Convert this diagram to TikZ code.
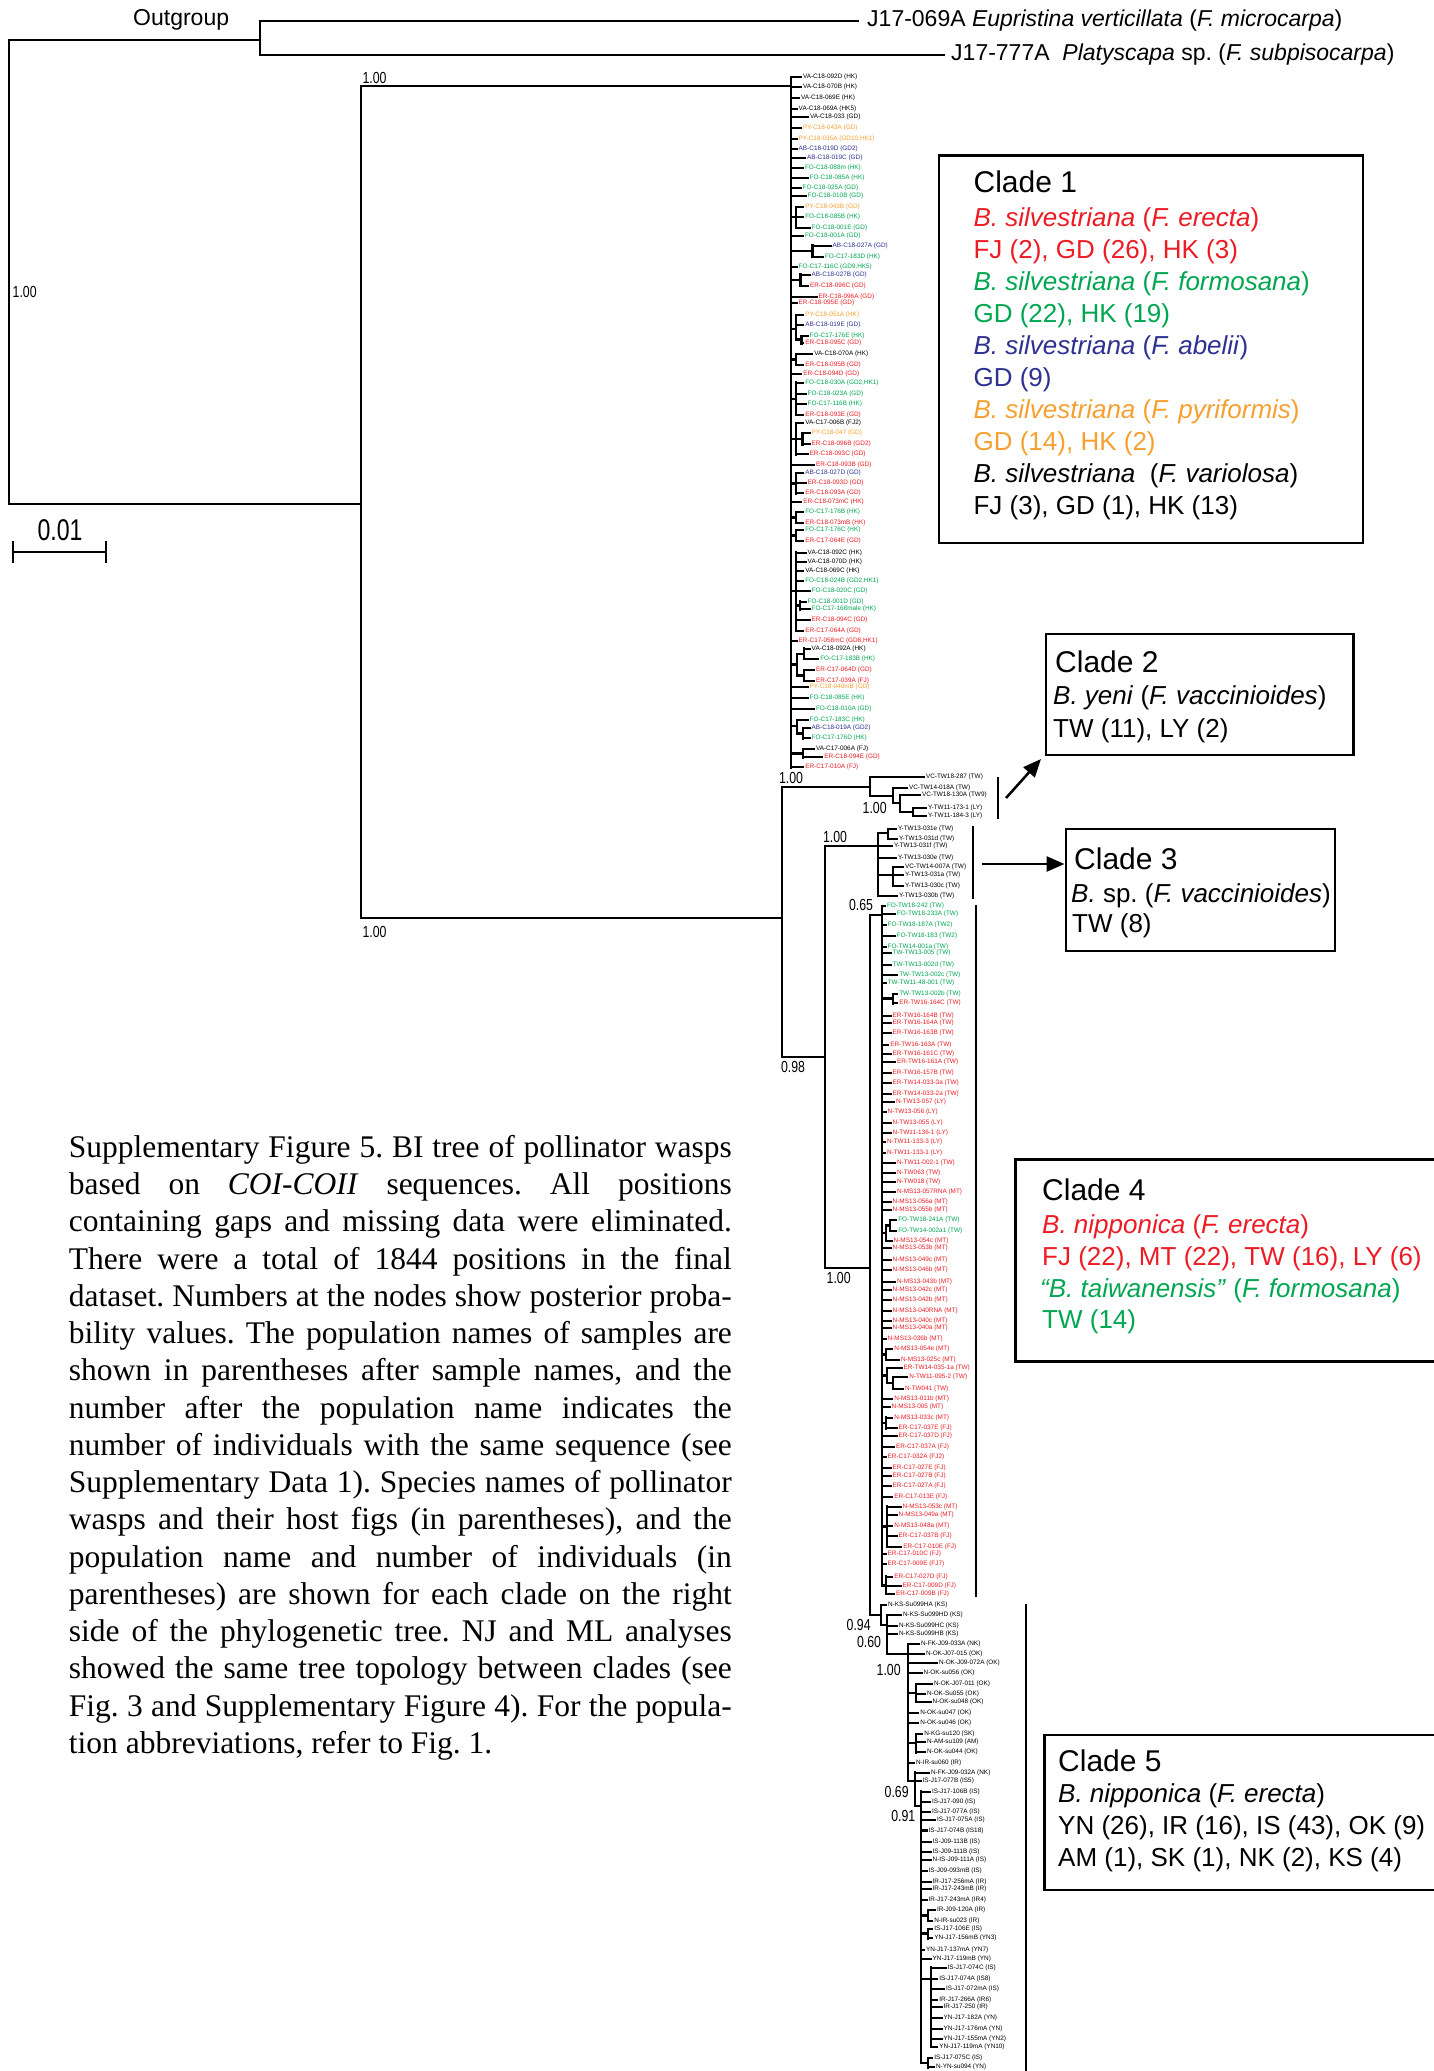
\documentclass[tikz,border=0pt]{standalone}
\usepackage{fontspec}
\setmainfont{Liberation Sans}
\newfontfamily\capfont{Liberation Serif}
\usetikzlibrary{arrows.meta}
\definecolor{cred}{RGB}{237,28,36}
\definecolor{cgrn}{RGB}{0,166,81}
\definecolor{cblu}{RGB}{46,49,146}
\definecolor{corg}{RGB}{247,160,50}
\definecolor{blk}{RGB}{0,0,0}
\newcount\lfc
\newcommand\leaffont{\fontsize{6.4}{7}\selectfont}
\newcommand\narr[1]{\scalebox{0.77}[1]{#1}}
\newcommand\lf[5]{\global\advance\lfc by 1\relax
  \node[leaf,text=#4] (L\the\lfc) at (#3,#2) {#5};
  \draw[tk] (#1,#2) -- (L\the\lfc.west);}
\newcommand\vl[3]{\draw[br] (#1,#2) -- (#1,#3);}
\newcommand\hl[3]{\draw[br] (#1,#3) -- (#2,#3);}
\frenchspacing
\begin{document}
\begin{tikzpicture}[x=1pt,y=-1pt,
 br/.style={line width=2.5pt, line cap=rect},
 tk/.style={line width=2.3pt, line cap=butt},
 leaf/.style={anchor=west, inner sep=0.8pt, font=\leaffont},
 supp/.style={inner sep=0, font=\fontsize{16}{16}\selectfont},
 cbox/.style={draw, line width=2.2pt, anchor=north west, inner sep=0},
 chd/.style={anchor=base west, inner sep=0, font=\fontsize{30}{32}\selectfont},
 ctx/.style={anchor=base west, inner sep=0, font=\fontsize{26}{28}\selectfont},
 big/.style={anchor=west, inner sep=0, font=\fontsize{23}{25}\selectfont},
 arr/.style={line width=2.5pt, -{Triangle[length=18pt,width=15pt]}},
 capt/.style={anchor=north west, inner sep=0, align=left, font=\capfont\fontsize{31.5}{37.25}\selectfont\frenchspacing}]
\path[use as bounding box, fill=white] (0,0) rectangle (1433,2071);

% ---------- outgroup and backbone ----------
\node[big] (outg) at (133,20) {Outgroup};
\node[big] (og1) at (867,21) {J17-069A \textit{Eupristina verticillata} (\textit{F. microcarpa})};
\node[big] (og2) at (951,55) {J17-777A\ \ \textit{Platyscapa} sp. (\textit{F. subpisocarpa})};
\hl{9}{260}{40}
\vl{260}{21}{55}
\draw[br,line cap=butt] (260,21) -- ([xshift=-8pt]og1.west);
\draw[br,line cap=butt] (260,55) -- ([xshift=-6pt]og2.west);
\vl{9}{40}{504}
\hl{9}{361}{504}
\vl{361}{86}{918}
\hl{361}{791}{86}
\hl{361}{782}{918}
\node[supp] (s0) at (24.7,291.7) {\narr{1.00}};
\node[supp] (s1) at (374.5,78) {\narr{1.00}};
\node[supp] (s2) at (374.5,932) {\narr{1.00}};

% scale bar
\draw[br,line cap=butt] (13,552) -- (106,552);
\draw[br,line cap=butt] (13,541) -- (13,563);
\draw[br,line cap=butt] (106,541) -- (106,563);
\node[inner sep=0, font=\fontsize{30}{30}\selectfont] (scl) at (60,530) {\narr{0.01}};

% ---------- clade 1 ----------
\vl{791}{77.3}{767.3}
\hl{791}{796}{217} \vl{796}{207}{227.7}
\hl{791}{812.7}{251.2} \vl{812.7}{245.7}{256.7}
\hl{791}{800.7}{280.2} \vl{800.7}{274.7}{285.7}
\hl{791}{796}{329} \vl{796}{315}{339.7} \hl{796}{801.7}{339.7} \vl{801.7}{336}{343.3}
\hl{791}{796}{359.5} \vl{796}{354}{365}
\hl{791}{796}{399} \vl{796}{382.7}{415}
\hl{791}{796}{439} \vl{796}{423.3}{454.3} \hl{796}{802.3}{438.8} \vl{802.3}{433.3}{444.3}
\hl{791}{796}{483.3} \vl{796}{473.3}{493.3}
\hl{791}{796}{517.5} \vl{796}{512.3}{522.7}
\hl{791}{796}{535.5} \vl{796}{530}{541}
\hl{791}{796}{591} \vl{796}{552.7}{630.7} \hl{796}{800}{605.5} \vl{800}{601.7}{609.3}
\hl{791}{797}{664.7} \vl{797}{654}{675.5} \hl{797}{804}{654} \vl{804}{648.7}{659} \hl{797}{804}{675.5} \vl{804}{670}{681}
\hl{791}{797}{726} \vl{797}{720}{733.3} \hl{797}{803}{733.3} \vl{803}{728.3}{738.3}
\hl{791}{803}{753.3} \vl{803}{749.3}{757.3}
\lf{791}{77.3}{802}{blk}{VA-C18-092D (HK)}
\lf{791}{87.3}{802}{blk}{VA-C18-070B (HK)}
\lf{791}{98.3}{800}{blk}{VA-C18-069E (HK)}
\lf{791}{109}{797.7}{blk}{VA-C18-069A (HK5)}
\lf{791}{117.3}{809}{blk}{VA-C18-033 (GD)}
\lf{791}{128.3}{802}{corg}{PY-C18-043A (GD)}
\lf{791}{138.7}{797.7}{corg}{PY-C18-035A (GD10,HK1)}
\lf{791}{149.3}{797.7}{cblu}{AB-C18-019D (GD2)}
\lf{791}{157.7}{806}{cblu}{AB-C18-019C (GD)}
\lf{791}{167.7}{804}{cgrn}{FO-C18-088m (HK)}
\lf{791}{178.3}{808.7}{cgrn}{FO-C18-085A (HK)}
\lf{791}{188.3}{801.7}{cgrn}{FO-C18-025A (GD)}
\lf{791}{196}{806.7}{cgrn}{FO-C18-010B (GD)}
\lf{796}{207}{804.3}{corg}{PY-C18-043B (GD)}
\lf{796}{217}{804.3}{cgrn}{FO-C18-085B (HK)}
\lf{796}{227.7}{810.7}{cgrn}{FO-C18-001E (GD)}
\lf{791}{235.7}{804}{cgrn}{FO-C18-001A (GD)}
\lf{812.7}{245.7}{831.7}{cblu}{AB-C18-027A (GD)}
\lf{812.7}{256.7}{824}{cgrn}{FO-C17-183D (HK)}
\lf{791}{267.3}{797.7}{cgrn}{FO-C17-116C (GD9,HK5)}
\lf{800.7}{274.7}{810.7}{cblu}{AB-C18-027B (GD)}
\lf{800.7}{285.7}{809}{cred}{ER-C18-096C (GD)}
\lf{791}{296.7}{817.7}{cred}{ER-C18-096A (GD)}
\lf{791}{303.3}{797.7}{cred}{ER-C18-095E (GD)}
\lf{796}{315}{804.3}{corg}{PY-C18-051A (HK)}
\lf{796}{325}{804.3}{cblu}{AB-C18-019E (GD)}
\lf{801.7}{336}{808.7}{cgrn}{FO-C17-176E (HK)}
\lf{801.7}{343.3}{804.3}{cred}{ER-C18-095C (GD)}
\lf{796}{354}{813.3}{blk}{VA-C18-070A (HK)}
\lf{796}{365}{804.3}{cred}{ER-C18-095B (GD)}
\lf{791}{374.3}{802.3}{cred}{ER-C18-094D (GD)}
\lf{796}{382.7}{804.3}{cgrn}{FO-C18-030A (GD2,HK1)}
\lf{796}{394.3}{806.7}{cgrn}{FO-C18-023A (GD)}
\lf{796}{404.3}{806.7}{cgrn}{FO-C17-116B (HK)}
\lf{796}{415}{804.3}{cred}{ER-C18-093E (GD)}
\lf{796}{423.3}{804.3}{blk}{VA-C17-006B (FJ2)}
\lf{802.3}{433.3}{810.7}{corg}{PY-C18-047 (GD)}
\lf{802.3}{444.3}{810.7}{cred}{ER-C18-096B (GD2)}
\lf{796}{454.3}{808.7}{cred}{ER-C18-093C (GD)}
\lf{791}{465}{815}{cred}{ER-C18-093B (GD)}
\lf{796}{473.3}{804.3}{cblu}{AB-C18-027D (GD)}
\lf{796}{483.3}{806.7}{cred}{ER-C18-093D (GD)}
\lf{796}{493.3}{804.3}{cred}{ER-C18-093A (GD)}
\lf{791}{502.3}{802.3}{cred}{ER-C18-073mC (HK)}
\lf{796}{512.3}{804.3}{cgrn}{FO-C17-176B (HK)}
\lf{796}{522.7}{804.3}{cred}{ER-C18-073mB (HK)}
\lf{796}{530}{804.3}{cgrn}{FO-C17-176C (HK)}
\lf{796}{541}{804.3}{cred}{ER-C17-064E (GD)}
\lf{796}{552.7}{806.7}{blk}{VA-C18-092C (HK)}
\lf{796}{562.3}{806.7}{blk}{VA-C18-070D (HK)}
\lf{796}{570.7}{804.3}{blk}{VA-C18-069C (HK)}
\lf{796}{581}{804.3}{cgrn}{FO-C18-024B (GD2,HK1)}
\lf{796}{591.3}{810.7}{cgrn}{FO-C18-020C (GD)}
\lf{800}{601.7}{806.7}{cgrn}{FO-C18-001D (GD)}
\lf{800}{609.3}{810.7}{cgrn}{FO-C17-168male (HK)}
\lf{796}{620}{810.7}{cred}{ER-C18-094C (GD)}
\lf{796}{630.7}{804.3}{cred}{ER-C17-064A (GD)}
\lf{791}{641}{797.7}{cred}{ER-C17-058mC (GD8,HK1)}
\lf{804}{648.7}{810.7}{blk}{VA-C18-092A (HK)}
\lf{804}{659}{819.3}{cgrn}{FO-C17-183B (HK)}
\lf{804}{670}{815}{cred}{ER-C17-064D (GD)}
\lf{804}{681}{815}{cred}{ER-C17-039A (FJ)}
\lf{791}{687.3}{808.7}{corg}{PY-C18-040mB (GD)}
\lf{791}{698.3}{808.7}{cgrn}{FO-C18-085E (HK)}
\lf{791}{709.3}{815}{cgrn}{FO-C18-010A (GD)}
\lf{797}{720}{808.7}{cgrn}{FO-C17-183C (HK)}
\lf{803}{728.3}{810.7}{cblu}{AB-C18-019A (GD2)}
\lf{803}{738.3}{810.7}{cgrn}{FO-C17-176D (HK)}
\lf{803}{749.3}{815}{blk}{VA-C17-006A (FJ)}
\lf{803}{757.3}{823.3}{cred}{ER-C18-094E (GD)}
\lf{791}{767.3}{804.3}{cred}{ER-C17-010A (FJ)}

% ---------- clades 2-5 backbone ----------
\vl{782}{787}{1057}
\node[supp] (s3) at (793,1067) {\narr{0.98}};
% clade 2
\hl{782}{870}{787} \vl{870}{777}{796}
\hl{870}{893}{796} \vl{893}{788}{803}
\hl{893}{900}{803} \vl{900}{795}{812}
\hl{900}{913}{812} \vl{913}{808}{816}
\node[supp] (s4) at (791,778) {\narr{1.00}};
\node[supp] (s5) at (874.7,808) {\narr{1.00}};
\lf{870}{777}{925}{blk}{VC-TW18-287 (TW)}
\lf{893}{788}{908}{blk}{VC-TW14-018A (TW)}
\lf{900}{795}{921}{blk}{VC-TW18-130A (TW9)}
\lf{913}{808}{927}{blk}{Y-TW11-173-1 (LY)}
\lf{913}{816}{927}{blk}{Y-TW11-184-3 (LY)}
% clade 3
\hl{782}{825}{1057} \vl{825}{846}{1268}
\hl{825}{878}{846} \vl{878}{833}{896}
\hl{878}{888}{833} \vl{888}{829}{839}
\hl{878}{893}{875} \vl{893}{867}{886}
\node[supp] (s6) at (835,837) {\narr{1.00}};
\lf{888}{829}{897}{blk}{Y-TW13-031e (TW)}
\lf{888}{839}{898}{blk}{Y-TW13-031d (TW)}
\lf{878}{846}{893}{blk}{Y-TW13-031f (TW)}
\lf{878}{858}{897}{blk}{Y-TW13-030e (TW)}
\lf{893}{867}{904}{blk}{VC-TW14-007A (TW)}
\lf{893}{875}{904}{blk}{Y-TW13-031a (TW)}
\lf{893}{886}{904}{blk}{Y-TW13-030c (TW)}
\lf{878}{896}{898}{blk}{Y-TW13-030b (TW)}
% clades 4+5
\hl{825}{870}{1268} \vl{870}{915}{1615}
\node[supp] (s7) at (838.7,1278) {\narr{1.00}};
\node[supp] (s8) at (861,905) {\narr{0.65}};
% ---------- clade 4 ----------
\hl{870}{882}{915} \vl{882}{906}{1585.3}
\hl{882}{893}{998.7} \vl{893}{994}{1003.3}
\hl{882}{886}{1233} \vl{886}{1225.3}{1240.7} \hl{886}{890}{1225.3} \vl{890}{1220}{1230.7}
\hl{882}{886}{1354.7} \vl{886}{1349.3}{1360}
\hl{882}{887}{1375.7} \vl{887}{1368.3}{1383} \hl{887}{893}{1383} \vl{893}{1377.3}{1389}
\hl{882}{886}{1423} \vl{886}{1417.7}{1428.3}
\hl{882}{887}{1526.7} \vl{887}{1506.7}{1546.7}
\hl{882}{886}{1585.3} \vl{886}{1576.7}{1594}
\lf{882}{906}{886}{cgrn}{FO-TW18-242 (TW)}
\lf{882}{914.3}{896}{cgrn}{FO-TW18-233A (TW)}
\lf{882}{925}{886.7}{cgrn}{FO-TW18-187A (TW2)}
\lf{882}{935.7}{895.7}{cgrn}{FO-TW18-183 (TW2)}
\lf{882}{946.7}{886.7}{cgrn}{FO-TW14-001a (TW)}
\lf{882}{953.3}{891.7}{cgrn}{TW-TW13-005 (TW)}
\lf{882}{965}{891.7}{cgrn}{TW-TW13-002d (TW)}
\lf{882}{975}{898.3}{cgrn}{TW-TW13-002c (TW)}
\lf{882}{982.7}{886.7}{cgrn}{TW-TW11-48-001 (TW)}
\lf{893}{994}{898.3}{cgrn}{TW-TW13-002b (TW)}
\lf{893}{1003.3}{898.3}{cred}{ER-TW16-164C (TW)}
\lf{882}{1015.7}{891.7}{cred}{ER-TW16-164B (TW)}
\lf{882}{1023.3}{891.7}{cred}{ER-TW16-164A (TW)}
\lf{882}{1033.3}{891.7}{cred}{ER-TW16-163B (TW)}
\lf{882}{1045}{889.3}{cred}{ER-TW16-163A (TW)}
\lf{882}{1054.3}{891.7}{cred}{ER-TW16-161C (TW)}
\lf{882}{1062.3}{896}{cred}{ER-TW16-161A (TW)}
\lf{882}{1073.3}{891.7}{cred}{ER-TW16-157B (TW)}
\lf{882}{1083.3}{891.7}{cred}{ER-TW14-033-3a (TW)}
\lf{882}{1094}{891.7}{cred}{ER-TW14-033-2a (TW)}
\lf{882}{1101.7}{895}{cred}{N-TW13-057 (LY)}
\lf{882}{1111.7}{886.7}{cred}{N-TW13-056 (LY)}
\lf{882}{1122.7}{891.7}{cred}{N-TW13-055 (LY)}
\lf{882}{1132.7}{891.7}{cred}{N-TW11-136-1 (LY)}
\lf{882}{1141.7}{886}{cred}{N-TW11-133-3 (LY)}
\lf{882}{1152.7}{886}{cred}{N-TW11-133-1 (LY)}
\lf{882}{1163.3}{896}{cred}{N-TW11-002-1 (TW)}
\lf{882}{1173.3}{896}{cred}{N-TW063 (TW)}
\lf{882}{1181.7}{896}{cred}{N-TW018 (TW)}
\lf{882}{1191.7}{896}{cred}{N-MS13-057RNA (MT)}
\lf{882}{1201.7}{891.7}{cred}{N-MS13-056a (MT)}
\lf{882}{1210}{891.7}{cred}{N-MS13-055b (MT)}
\lf{890}{1220}{897.3}{cgrn}{FO-TW18-241A (TW)}
\lf{890}{1230.7}{897.3}{cgrn}{FO-TW14-002a1 (TW)}
\lf{886}{1240.7}{892.7}{cred}{N-MS13-054c (MT)}
\lf{882}{1248.3}{891.7}{cred}{N-MS13-053b (MT)}
\lf{882}{1260}{891.7}{cred}{N-MS13-049c (MT)}
\lf{882}{1270}{891.7}{cred}{N-MS13-046b (MT)}
\lf{882}{1282.3}{896}{cred}{N-MS13-043b (MT)}
\lf{882}{1290}{891.7}{cred}{N-MS13-042c (MT)}
\lf{882}{1300}{891.7}{cred}{N-MS13-042b (MT)}
\lf{882}{1311}{891.7}{cred}{N-MS13-040RNA (MT)}
\lf{882}{1321}{891.7}{cred}{N-MS13-040c (MT)}
\lf{882}{1328.3}{891.7}{cred}{N-MS13-040a (MT)}
\lf{882}{1339.3}{886.7}{cred}{N-MS13-036b (MT)}
\lf{886}{1349.3}{893.3}{cred}{N-MS13-054e (MT)}
\lf{886}{1360}{900}{cred}{N-MS13-025c (MT)}
\lf{887}{1368.3}{902.7}{cred}{ER-TW14-035-1a (TW)}
\lf{893}{1377.3}{908.3}{cred}{N-TW11-095-2 (TW)}
\lf{893}{1389}{904}{cred}{N-TW041 (TW)}
\lf{882}{1399}{893.3}{cred}{N-MS13-011b (MT)}
\lf{882}{1406.7}{890.7}{cred}{N-MS13-005 (MT)}
\lf{886}{1417.7}{893.3}{cred}{N-MS13-033c (MT)}
\lf{886}{1428.3}{897.7}{cred}{ER-C17-037E (FJ)}
\lf{882}{1436}{897.7}{cred}{ER-C17-037D (FJ)}
\lf{882}{1447.3}{895}{cred}{ER-C17-037A (FJ)}
\lf{882}{1457.3}{886.7}{cred}{ER-C17-032A (FJ2)}
\lf{882}{1468.3}{891.7}{cred}{ER-C17-027E (FJ)}
\lf{882}{1476}{891.7}{cred}{ER-C17-027B (FJ)}
\lf{882}{1486}{891.7}{cred}{ER-C17-027A (FJ)}
\lf{882}{1496.7}{893.3}{cred}{ER-C17-013E (FJ)}
\lf{887}{1506.7}{901.7}{cred}{N-MS13-053c (MT)}
\lf{887}{1515}{897.7}{cred}{N-MS13-049a (MT)}
\lf{887}{1525.7}{893.3}{cred}{N-MS13-048a (MT)}
\lf{887}{1535.7}{897.7}{cred}{ER-C17-037B (FJ)}
\lf{887}{1546.7}{902.3}{cred}{ER-C17-010E (FJ)}
\lf{882}{1554.3}{886.7}{cred}{ER-C17-010C (FJ)}
\lf{882}{1564.3}{886.7}{cred}{ER-C17-009E (FJ7)}
\lf{886}{1576.7}{893.3}{cred}{ER-C17-027D (FJ)}
\lf{886}{1585.7}{901.7}{cred}{ER-C17-009D (FJ)}
\lf{886}{1594}{895}{cred}{ER-C17-009B (FJ)}

% ---------- clade 5 ----------
\hl{870}{881}{1615} \vl{881}{1605}{1625}
\hl{881}{887}{1625} \vl{887}{1615}{1654}
\hl{887}{908}{1654} \vl{908}{1644}{1781}
\hl{908}{916}{1693} \vl{916}{1684.3}{1701.7}
\hl{908}{916}{1743} \vl{916}{1734.3}{1752.3}
\hl{908}{915}{1781} \vl{915}{1772.7}{1806}
\hl{915}{921}{1806} \vl{921}{1791.7}{2062.8}
\hl{921}{928}{1915.3} \vl{928}{1910}{1920.7}
\hl{921}{928}{1933.7} \vl{928}{1929}{1938.3}
\hl{921}{931}{1979} \vl{931}{1967.7}{2046.7}
\hl{921}{928}{2062.8} \vl{928}{2058.3}{2067.3}
\node[supp] (s9) at (858.7,1625) {\narr{0.94}};
\node[supp] (s10) at (869,1642) {\narr{0.60}};
\node[supp] (s11) at (888.7,1669.5) {\narr{1.00}};
\node[supp] (s12) at (896.7,1792) {\narr{0.69}};
\node[supp] (s13) at (903.3,1816) {\narr{0.91}};
\lf{881}{1605}{887}{blk}{N-KS-Su099HA (KS)}
\lf{887}{1615}{902}{blk}{N-KS-Su099HD (KS)}
\lf{887}{1626}{898}{blk}{N-KS-Su099HC (KS)}
\lf{887}{1633.7}{898}{blk}{N-KS-Su099HB (KS)}
\lf{908}{1644}{920}{blk}{N-FK-J09-033A (NK)}
\lf{908}{1654.3}{925}{blk}{N-OK-J07-015 (OK)}
\lf{908}{1662.7}{938}{blk}{N-OK-J09-072A (OK)}
\lf{908}{1672.7}{922.7}{blk}{N-OK-su056 (OK)}
\lf{916}{1684.3}{933}{blk}{N-OK-J07-011 (OK)}
\lf{916}{1694}{926}{blk}{N-OK-Su055 (OK)}
\lf{916}{1701.7}{931.7}{blk}{N-OK-su048 (OK)}
\lf{908}{1713.3}{919.3}{blk}{N-OK-su047 (OK)}
\lf{908}{1723.3}{919.3}{blk}{N-OK-su046 (OK)}
\lf{916}{1734.3}{923.3}{blk}{N-KG-su120 (SK)}
\lf{916}{1742.3}{926}{blk}{N-AM-su109 (AM)}
\lf{916}{1752.3}{926}{blk}{N-OK-su044 (OK)}
\lf{908}{1763.3}{915}{blk}{N-IR-su060 (IR)}
\lf{915}{1772.7}{930}{blk}{N-FK-J09-032A (NK)}
\lf{915}{1780.7}{921.7}{blk}{IS-J17-077B (IS5)}
\lf{921}{1791.7}{931}{blk}{IS-J17-106B (IS)}
\lf{921}{1801.7}{931}{blk}{IS-J17-090 (IS)}
\lf{921}{1811.7}{931}{blk}{IS-J17-077A (IS)}
\lf{921}{1820}{936}{blk}{IS-J17-075A (IS)}
\lf{921}{1830.5}{927.7}{blk}{IS-J17-074B (IS18)}
\lf{921}{1842.3}{931.7}{blk}{IS-J09-113B (IS)}
\lf{921}{1852.3}{931.7}{blk}{IS-J09-111B (IS)}
\lf{921}{1860}{931.7}{blk}{N-IS-J09-111A (IS)}
\lf{921}{1871}{927.7}{blk}{IS-J09-093mB (IS)}
\lf{921}{1881.7}{931.7}{blk}{IR-J17-256mA (IR)}
\lf{921}{1889.3}{931.7}{blk}{IR-J17-243mB (IR)}
\lf{921}{1900}{927.7}{blk}{IR-J17-243mA (IR4)}
\lf{928}{1910}{936}{blk}{IR-J09-120A (IR)}
\lf{928}{1920.7}{933.3}{blk}{N-IR-su023 (IR)}
\lf{928}{1929}{933.3}{blk}{IS-J17-106E (IS)}
\lf{928}{1938.3}{933.3}{blk}{YN-J17-156mB (YN3)}
\lf{921}{1950}{925}{blk}{YN-J17-137mA (YN7)}
\lf{921}{1959.3}{931.7}{blk}{YN-J17-119mB (YN)}
\lf{931}{1967.7}{946.7}{blk}{IS-J17-074C (IS)}
\lf{931}{1979}{938.3}{blk}{IS-J17-074A (IS8)}
\lf{931}{1989.3}{945}{blk}{IS-J17-072mA (IS)}
\lf{931}{2000}{938.3}{blk}{IR-J17-266A (IR6)}
\lf{931}{2007.3}{942.7}{blk}{IR-J17-250 (IR)}
\lf{931}{2018.3}{942.7}{blk}{YN-J17-182A (YN)}
\lf{931}{2029}{942.7}{blk}{YN-J17-176mA (YN)}
\lf{931}{2039.3}{942.7}{blk}{YN-J17-155mA (YN2)}
\lf{931}{2046.7}{938.3}{blk}{YN-J17-119mA (YN10)}
\lf{928}{2058.3}{933.3}{blk}{IS-J17-075C (IS)}
\lf{928}{2067.3}{935}{blk}{N-YN-su094 (YN)}

% ---------- clade boxes ----------
\node[cbox, minimum width=423.9pt, minimum height=387pt] (c1box) at (937.7,154.5) {};
\node[chd] (c1h) at (973.4,193) {Clade 1};
\node[ctx,text=cred] (c1a) at (973.4,226) {\textit{B. silvestriana} (\textit{F. erecta})};
\node[ctx,text=cred] (c1b) at (973.4,258) {FJ (2), GD (26), HK (3)};
\node[ctx,text=cgrn] (c1c) at (973.4,290) {\textit{B. silvestriana} (\textit{F. formosana})};
\node[ctx,text=cgrn] (c1d) at (973.4,322) {GD (22), HK (19)};
\node[ctx,text=cblu] (c1e) at (973.4,354) {\textit{B. silvestriana} (\textit{F. abelii})};
\node[ctx,text=cblu] (c1f) at (973.4,386) {GD (9)};
\node[ctx,text=corg] (c1g) at (973.4,418) {\textit{B. silvestriana} (\textit{F. pyriformis})};
\node[ctx,text=corg] (c1i) at (973.4,450) {GD (14), HK (2)};
\node[ctx] (c1j) at (973.4,482) {\textit{B. silvestriana}\ \ (\textit{F. variolosa})};
\node[ctx] (c1k) at (973.4,514) {FJ (3), GD (1), HK (13)};

\node[cbox, minimum width=307.7pt, minimum height=121.4pt] (c2box) at (1044.7,632.6) {};
\node[chd] (c2h) at (1055,672.4) {Clade 2};
\node[ctx] (c2a) at (1053,704) {\textit{B. yeni} (\textit{F. vaccinioides})};
\node[ctx] (c2b) at (1053,737) {TW (11), LY (2)};
\coordinate (c2t) at (998,777);
\coordinate (c2u) at (998,819);
\draw[br,line cap=butt] (c2t) -- (c2u);
\coordinate (c2s) at (1006,798);
\coordinate (c2e) at (1041,759);
\draw[arr] (c2s) -- (c2e);

\node[cbox, minimum width=269.5pt, minimum height=121.6pt] (c3box) at (1064.5,828) {};
\node[chd] (c3h) at (1074,869) {Clade 3};
\node[ctx] (c3a) at (1071,902) {\textit{B.} sp. (\textit{F. vaccinioides})};
\node[ctx] (c3b) at (1072,932.5) {TW (8)};
\coordinate (c3t) at (973,826);
\coordinate (c3u) at (973,899);
\draw[br,line cap=butt] (c3t) -- (c3u);
\coordinate (c3s) at (982,864);
\draw[arr] (c3s) -- (c3s -| c3box.west);

\node[cbox, minimum width=430.7pt, minimum height=202pt] (c4box) at (1014.3,1158.3) {};
\node[chd] (c4h) at (1042,1200.7) {Clade 4};
\node[ctx,text=cred] (c4a) at (1042,1233.6) {\textit{B. nipponica} (\textit{F. erecta})};
\node[ctx,text=cred] (c4b) at (1042,1265.3) {FJ (22), MT (22), TW (16), LY (6)};
\node[ctx,text=cgrn] (c4c) at (1040,1297) {\textit{“B. taiwanensis”} (\textit{F. formosana})};
\node[ctx,text=cgrn] (c4d) at (1042,1328.7) {TW (14)};
\coordinate (c4t) at (976,905);
\coordinate (c4u) at (976,1597);
\draw[br,line cap=butt] (c4t) -- (c4u);

\node[cbox, minimum width=401.7pt, minimum height=154.6pt] (c5box) at (1043.3,1734) {};
\node[chd] (c5h) at (1058,1771.2) {Clade 5};
\node[ctx] (c5a) at (1058,1802.8) {\textit{B. nipponica} (\textit{F. erecta})};
\node[ctx] (c5b) at (1058,1834.5) {YN (26), IR (16), IS (43), OK (9)};
\node[ctx] (c5c) at (1058,1866.3) {AM (1), SK (1), NK (2), KS (4)};
\coordinate (c5t) at (1026,1604);
\coordinate (c5u) at (1026,2080);
\draw[br,line cap=butt] (c5t) -- (c5u);

% ---------- caption ----------
\node[capt] (caption) at (68.7,1135) {%
\makebox[663pt][s]{Supplementary Figure 5. BI tree of pollinator wasps}\\
\makebox[663pt][s]{based on \textit{COI-COII} sequences. All positions}\\
\makebox[663pt][s]{containing gaps and missing data were eliminated.}\\
\makebox[663pt][s]{There were a total of 1844 positions in the final}\\
\makebox[663pt][s]{dataset. Numbers at the nodes show posterior proba-}\\
\makebox[663pt][s]{bility values. The population names of samples are}\\
\makebox[663pt][s]{shown in parentheses after sample names, and the}\\
\makebox[663pt][s]{number after the population name indicates the}\\
\makebox[663pt][s]{number of individuals with the same sequence (see}\\
\makebox[663pt][s]{Supplementary Data 1). Species names of pollinator}\\
\makebox[663pt][s]{wasps and their host figs (in parentheses), and the}\\
\makebox[663pt][s]{population name and number of individuals (in}\\
\makebox[663pt][s]{parentheses) are shown for each clade on the right}\\
\makebox[663pt][s]{side of the phylogenetic tree. NJ and ML analyses}\\
\makebox[663pt][s]{showed the same tree topology between clades (see}\\
\makebox[663pt][s]{Fig. 3 and Supplementary Figure 4). For the popula-}\\
tion abbreviations, refer to Fig. 1.};
\end{tikzpicture}
\end{document}
